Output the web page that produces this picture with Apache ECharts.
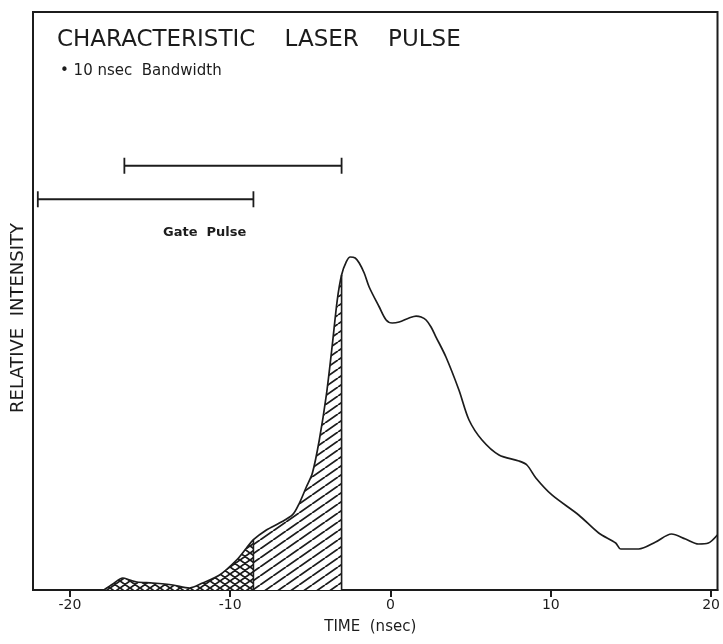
<!DOCTYPE html>
<html>
<head>
<meta charset="utf-8">
<script src="https://cdn.jsdelivr.net/npm/echarts@6/dist/echarts.min.js"></script>
<style>
html,body{margin:0;padding:0;background:#fff;}
#chart{width:723px;height:644px;}
</style>
</head>
<body>
<div id="chart"></div>
<script>
// ---- data ----
const xTicks = [-20, -10, 0, 10, 20];
const pulseTime = [-17.88,-17.32,-16.70,-16.26,-15.82,-14.83,-13.58,-12.53,-11.72,-10.66,-9.60,-8.98,-8.55,-7.74,-6.93,-6.12,-5.68,-5.25,-4.87,-4.44,-4.00,-3.63,-3.32,-3.05,-2.76,-2.51,-2.20,-1.95,-1.64,-1.33,-0.70,-0.27,0.11,0.54,1.16,1.60,1.91,2.22,2.53,2.84,3.46,4.27,4.90,5.71,6.77,8.01,8.51,9.07,10.07,11.74,12.99,14.05,14.36,15.48,16.54,17.53,18.40,19.21,19.83,20.39];
const pulseIntensity = [0,1.04,2.08,1.73,1.38,1.21,0.87,0.35,1.21,2.60,5.19,7.27,8.7,10.38,11.59,12.98,15.05,17.82,20.24,25.95,33.74,42.39,50.17,54.5,56.75,57.61,57.44,56.57,54.84,52.42,48.96,46.71,46.19,46.37,47.06,47.40,47.23,46.71,45.50,43.77,40.31,34.60,29.41,25.95,23.36,22.32,21.63,19.38,16.44,12.98,9.86,8.13,7.09,7.09,8.30,9.69,8.82,7.96,8.13,9.52];
const crossHatchRange = [-17.88, -8.55];
const lineHatchRange = [-8.55, -3.05];
const gateStart = [-22.0, -16.6];
const gateEnd = [-8.55, -3.05];
const gateLevel = [67.6, 73.4];
const titleText = 'CHARACTERISTIC    LASER    PULSE';
const subText = '\u2022 10 nsec  Bandwidth';
const gateText = 'Gate  Pulse';
const xName = 'TIME  (nsec)';
const yName = 'RELATIVE  INTENSITY';

// ---- styling helpers ----
const INK = '#1c1c1c';
const FONT = '"DejaVu Sans", "Liberation Sans", sans-serif';

function makeHatch(w, h, cross, lw) {
  const c = document.createElement('canvas');
  c.width = w; c.height = h;
  const ctx = c.getContext('2d');
  ctx.fillStyle = '#fff';
  ctx.fillRect(0, 0, w, h);
  ctx.strokeStyle = INK;
  ctx.lineWidth = lw;
  ctx.beginPath();
  for (const dx of [-w, 0, w]) {
    ctx.moveTo(dx, h); ctx.lineTo(dx + w, 0);
    if (cross) { ctx.moveTo(dx, 0); ctx.lineTo(dx + w, h); }
  }
  ctx.stroke();
  return c;
}

const pulse = pulseTime.map((t, i) => [t, pulseIntensity[i]]);
const inRange = (r) => pulse.filter(p => p[0] >= r[0] - 1e-9 && p[0] <= r[1] + 1e-9);
const valueAt = (t) => pulse[pulseTime.findIndex(v => Math.abs(v - t) < 1e-9)][1];
const boundaries = [[lineHatchRange[0], valueAt(lineHatchRange[0])], [lineHatchRange[1], valueAt(lineHatchRange[1])]];
const gates = gateStart.map((s, i) => [s, gateEnd[i], gateLevel[i]]);

const chart = echarts.init(document.getElementById('chart'), null, {renderer: 'canvas'});
const SMOOTH = 0.3;

chart.setOption({
  animation: false,
  backgroundColor: '#fff',
  title: [
    {text: titleText, left: 52, top: 24, textStyle: {fontFamily: FONT, fontSize: 23, fontWeight: 'normal', color: INK}},
    {text: subText, left: 55, top: 59, textStyle: {fontFamily: FONT, fontSize: 15, fontWeight: 'normal', color: INK}}
  ],
  grid: {left: 33, right: 4, top: 12, bottom: 54, show: true, borderColor: INK, borderWidth: 2, backgroundColor: 'transparent'},
  xAxis: {
    type: 'value', min: -22.3, max: 20.4,
    name: xName, nameLocation: 'middle', nameGap: 30,
    nameTextStyle: {fontFamily: FONT, fontSize: 15, color: INK, padding: [0, 10, 0, 0]},
    axisLine: {show: true, onZero: false, lineStyle: {color: INK, width: 2}},
    axisTick: {show: true, customValues: xTicks, length: 7, inside: false, lineStyle: {color: INK, width: 2}},
    axisLabel: {customValues: xTicks, fontFamily: FONT, fontSize: 14, color: INK, margin: 8},
    splitLine: {show: false}
  },
  yAxis: {
    type: 'value', min: 0, max: 100,
    axisLine: {show: true, onZero: false, lineStyle: {color: INK, width: 2}},
    axisTick: {show: false}, axisLabel: {show: false}, splitLine: {show: false}
  },
  graphic: [
    {type: 'text', x: 18, y: 318, rotation: Math.PI / 2,
     style: {text: yName, fontFamily: FONT, fontSize: 18, fill: INK, align: 'center', verticalAlign: 'middle'}},
    {type: 'text', x: 163, y: 233,
     style: {text: gateText, fontFamily: FONT, fontSize: 13, fontWeight: 'bold', fill: INK, align: 'left', verticalAlign: 'middle'}}
  ],
  series: [
    {
      type: 'line', data: inRange(crossHatchRange), smooth: SMOOTH, symbol: 'none',
      lineStyle: {width: 0}, areaStyle: {color: {image: makeHatch(10, 7, true, 1.8), repeat: 'repeat'}, opacity: 1}, z: 1
    },
    {
      type: 'line', data: inRange(lineHatchRange), smooth: SMOOTH, symbol: 'none',
      lineStyle: {width: 0}, areaStyle: {color: {image: makeHatch(13, 9, false, 1.8), repeat: 'repeat'}, opacity: 1}, z: 1
    },
    {
      type: 'line', data: pulse, smooth: SMOOTH, symbol: 'none',
      lineStyle: {color: INK, width: 1.7}, z: 3
    },
    {
      type: 'custom', data: boundaries, z: 4,
      renderItem: function (params, api) {
        const a = api.coord([api.value(0), 0]);
        const b = api.coord([api.value(0), api.value(1)]);
        return {type: 'line', shape: {x1: a[0], y1: a[1], x2: b[0], y2: b[1]}, style: {stroke: INK, lineWidth: 1.6}};
      }
    },
    {
      type: 'custom', data: gates, z: 4, encode: {x: [0, 1], y: 2},
      renderItem: function (params, api) {
        const s = api.coord([api.value(0), api.value(2)]);
        const e = api.coord([api.value(1), api.value(2)]);
        const st = {stroke: INK, lineWidth: 1.8};
        return {type: 'group', children: [
          {type: 'line', shape: {x1: s[0], y1: s[1], x2: e[0], y2: e[1]}, style: st},
          {type: 'line', shape: {x1: s[0], y1: s[1] - 8, x2: s[0], y2: s[1] + 8}, style: st},
          {type: 'line', shape: {x1: e[0], y1: e[1] - 8, x2: e[0], y2: e[1] + 8}, style: st}
        ]};
      }
    }
  ]
});
</script>
</body>
</html>
